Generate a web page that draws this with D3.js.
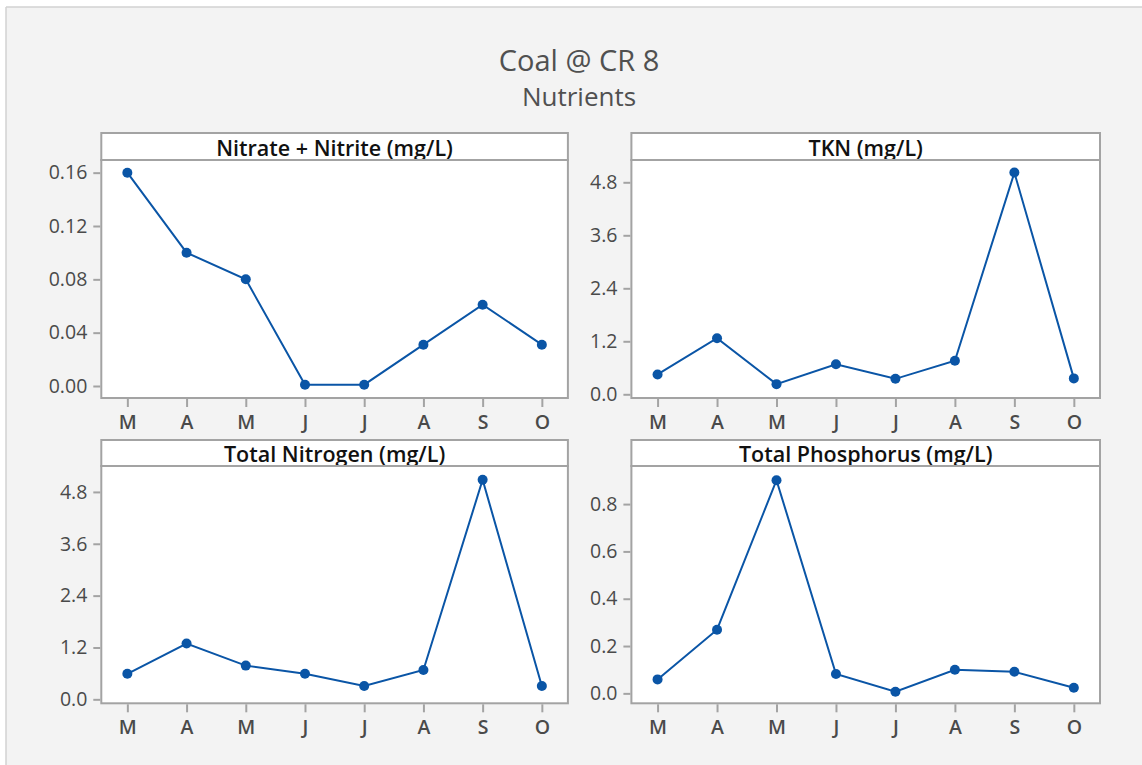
<!DOCTYPE html>
<html>
<head>
<meta charset="utf-8">
<script src="https://cdn.jsdelivr.net/npm/d3@7"></script>
<style>
  html, body { margin: 0; padding: 0; background: #ffffff; }
  svg { display: block; }
  text { font-family: "Open Sans", "Noto Sans", sans-serif; }
</style>
</head>
<body>
<svg id="chart" width="1142" height="765"></svg>
<script>
// Sampling months (Mar..Oct), shown by their initial letter
const months = ["Mar", "Apr", "May", "Jun", "Jul", "Aug", "Sep", "Oct"];

// Measured concentrations, one value per month
const nitrateNitrite = [0.16, 0.10, 0.08, 0.001, 0.001, 0.031, 0.061, 0.031];
const tkn            = [0.45, 1.27, 0.23, 0.68, 0.35, 0.76, 5.02, 0.36];
const totalNitrogen  = [0.59, 1.29, 0.78, 0.59, 0.31, 0.68, 5.08, 0.31];
const totalPhosphorus = [0.059, 0.269, 0.901, 0.082, 0.007, 0.10, 0.091, 0.024];

// Tick values for each panel's y axis
const ticksNitrate = [0, 0.04, 0.08, 0.12, 0.16];
const ticksTkn = [0, 1.2, 2.4, 3.6, 4.8];
const ticksTn = [0, 1.2, 2.4, 3.6, 4.8];
const ticksTp = [0, 0.2, 0.4, 0.6, 0.8];

const titleText = "Coal @ CR 8";
const subtitleText = "Nutrients";

const panels = [
  { title: "Nitrate + Nitrite (mg/L)", values: nitrateNitrite, ticks: ticksNitrate, fmt: ".2f",
    domain: [-0.009, 0.1695], x0: 101.3, x1: 567.9, top: 133, stripBottom: 160, bottom: 398 },
  { title: "TKN (mg/L)", values: tkn, ticks: ticksTkn, fmt: ".1f",
    domain: [-0.084, 5.305], x0: 631.4, x1: 1100, top: 133, stripBottom: 160, bottom: 398 },
  { title: "Total Nitrogen (mg/L)", values: totalNitrogen, ticks: ticksTn, fmt: ".1f",
    domain: [-0.092, 5.40], x0: 101.3, x1: 567.9, top: 440, stripBottom: 466, bottom: 703.3 },
  { title: "Total Phosphorus (mg/L)", values: totalPhosphorus, ticks: ticksTp, fmt: ".1f",
    domain: [-0.042, 0.961], x0: 631.4, x1: 1100, top: 440, stripBottom: 466, bottom: 703.3 }
];

const lineColor = "#0a55a6";
const frameColor = "#a3a3a3";
const labelColor = "#4a4a4a";

const svg = d3.select("#chart");

// Page background with a thin top/left frame
svg.append("rect").attr("x", 6).attr("y", 7).attr("width", 1142).attr("height", 765)
  .attr("fill", "#f3f3f3");
svg.append("line").attr("x1", 6).attr("x2", 1142).attr("y1", 7).attr("y2", 7)
  .attr("stroke", "#d2d2d2").attr("stroke-width", 1.5);
svg.append("line").attr("x1", 6).attr("x2", 6).attr("y1", 7).attr("y2", 765)
  .attr("stroke", "#d2d2d2").attr("stroke-width", 1.5);

// Titles
svg.append("text").attr("x", 579).attr("y", 71).attr("text-anchor", "middle")
  .attr("font-size", 29).attr("fill", "#505050").text(titleText);
svg.append("text").attr("x", 579).attr("y", 106).attr("text-anchor", "middle")
  .attr("font-size", 26).attr("fill", "#505050").text(subtitleText);

panels.forEach(p => {
  const g = svg.append("g");

  const x = d3.scalePoint().domain(months).range([p.x0, p.x1]).padding(0.44);
  const y = d3.scaleLinear().domain(p.domain).range([p.bottom, p.stripBottom]);

  // Plot area
  g.append("rect").attr("x", p.x0).attr("y", p.stripBottom)
    .attr("width", p.x1 - p.x0).attr("height", p.bottom - p.stripBottom)
    .attr("fill", "#ffffff");

  // Strip header
  g.append("rect").attr("x", p.x0).attr("y", p.top)
    .attr("width", p.x1 - p.x0).attr("height", p.stripBottom - p.top)
    .attr("fill", "#ffffff").attr("stroke", frameColor).attr("stroke-width", 2);
  g.append("text").attr("x", (p.x0 + p.x1) / 2).attr("y", p.stripBottom - 4)
    .attr("text-anchor", "middle").attr("font-size", 21.5).attr("font-weight", 600)
    .attr("fill", "#111111").text(p.title);

  // Axes
  const yAxis = d3.axisLeft(y).tickValues(p.ticks).tickFormat(d3.format(p.fmt))
    .tickSize(7).tickPadding(6).tickSizeOuter(0);
  const xAxis = d3.axisBottom(x).tickFormat(d => d[0])
    .tickSize(8).tickPadding(8).tickSizeOuter(0);

  const ya = g.append("g").attr("transform", `translate(${p.x0 - 1},0)`).call(yAxis);
  const xa = g.append("g").attr("transform", `translate(0,${p.bottom + 1})`).call(xAxis);
  [ya, xa].forEach(a => {
    a.select(".domain").remove();
    a.selectAll(".tick line").attr("stroke", frameColor).attr("stroke-width", 2);
    a.selectAll(".tick text").attr("fill", labelColor).attr("font-size", 19.5)
      .attr("font-family", "'Open Sans', 'Noto Sans', sans-serif");
  });
  xa.selectAll(".tick text").attr("font-weight", 600);

  // Plot frame
  g.append("rect").attr("x", p.x0).attr("y", p.stripBottom)
    .attr("width", p.x1 - p.x0).attr("height", p.bottom - p.stripBottom)
    .attr("fill", "none").attr("stroke", frameColor).attr("stroke-width", 2);

  // Series line and markers
  const pts = p.values.map((v, i) => ({ m: months[i], v }));
  g.append("path").datum(pts)
    .attr("fill", "none").attr("stroke", lineColor).attr("stroke-width", 2)
    .attr("d", d3.line().x(d => x(d.m)).y(d => y(d.v)));
  g.selectAll("circle.pt").data(pts).enter().append("circle")
    .attr("class", "pt")
    .attr("cx", d => x(d.m)).attr("cy", d => y(d.v)).attr("r", 5)
    .attr("fill", lineColor);
});
</script>
</body>
</html>
